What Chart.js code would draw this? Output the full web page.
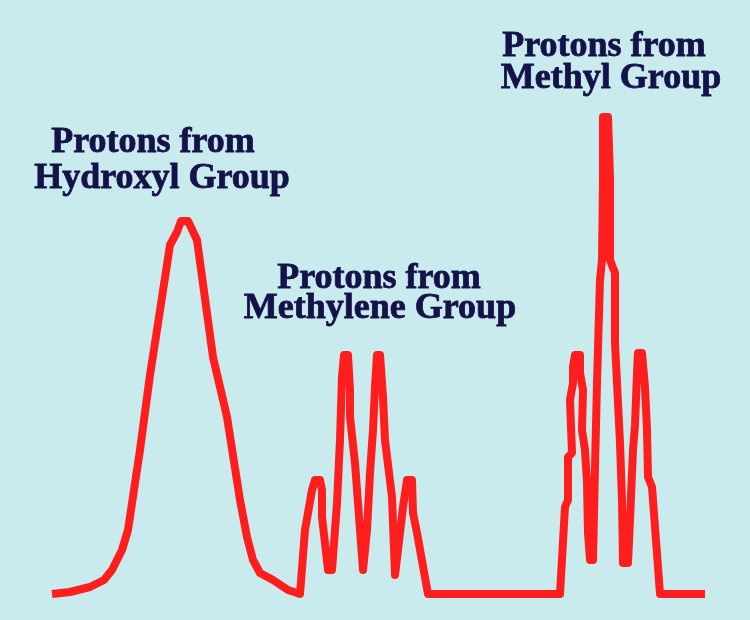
<!DOCTYPE html>
<html>
<head>
<meta charset="utf-8">
<title>NMR spectrum of ethanol</title>
<script src="https://cdn.jsdelivr.net/npm/chart.js@4.4.1/dist/chart.umd.min.js"></script>
<style>
  html, body { margin: 0; padding: 0; background: #c9ebee; }
  #wrap { width: 750px; height: 620px; position: relative; }
</style>
</head>
<body>
<div id="wrap"><canvas id="spectrum"></canvas></div>
<script>
// posição horizontal (unidades da figura) e intensidade do sinal
const shifts = [52, 70, 90, 104, 112, 122, 128, 140, 150, 157, 170, 177, 181, 188, 197, 213, 227, 240, 247, 253, 260, 273, 288, 300,
  305, 312, 315, 320, 322, 322, 328, 332, 337, 340, 342, 344, 348, 350, 350, 355, 363, 367, 370, 373, 375, 377, 380, 383, 385, 392,
  395, 398, 403, 407, 412, 413, 417, 428, 560,
  565, 568, 568, 572, 570, 573, 573, 575, 580, 580, 583, 582, 585, 587, 588, 590, 593, 595, 597, 600, 602, 603, 603, 608, 610, 610,
  615, 615, 620, 622, 623, 628, 630, 633, 635, 637, 638, 642, 645, 647, 648, 652, 660, 705];
const intensities = [0, 2, 7, 14, 24, 44, 64, 144, 219, 264, 349, 362, 373, 373, 354, 237, 177, 94, 57, 34, 21, 14, 4, 0,
  64, 104, 114, 114, 104, 77, 24, 24, 91, 154, 217, 239, 239, 204, 177, 131, 24, 64, 121, 164, 207, 239, 239, 197, 154, 97,
  19, 44, 87, 114, 114, 81, 61, 0, 0,
  87, 94, 137, 141, 194, 211, 227, 239, 239, 221, 204, 164, 144, 111, 61, 34, 34, 127, 211, 314, 334, 414, 477, 477, 417, 334,
  321, 251, 151, 94, 31, 31, 74, 144, 169, 221, 241, 241, 207, 164, 117, 107, 0, 0];

// rótulos dos grupos
const groupLabels = [
  ['Protons from', 'Hydroxyl Group'],
  ['Protons from', 'Methylene Group'],
  ['Protons from', 'Methyl Group']
];
// onde cada linha do rótulo fica (centro x, linha de base y), em unidades dos eixos
const labelAnchors = [
  [[153, 442], [162, 406]],
  [[379, 306], [380, 276]],
  [[604, 538], [611, 506]]
];

const points = shifts.map((x, i) => ({ x, y: intensities[i] }));

const background = {
  id: 'background',
  beforeDraw(chart) {
    const ctx = chart.ctx;
    ctx.save();
    ctx.fillStyle = '#c9ebee';
    ctx.fillRect(0, 0, chart.width, chart.height);
    ctx.restore();
  }
};

const groupText = {
  id: 'groupText',
  afterDatasetsDraw(chart) {
    const { ctx, scales } = chart;
    ctx.save();
    ctx.font = 'bold 36px "Liberation Serif", "Times New Roman", serif';
    ctx.fillStyle = '#15124a';
    ctx.strokeStyle = '#15124a';
    ctx.lineWidth = 0.8;
    ctx.textAlign = 'center';
    ctx.textBaseline = 'alphabetic';
    groupLabels.forEach((lines, g) => {
      lines.forEach((txt, l) => {
        const [ax, ay] = labelAnchors[g][l];
        const px = scales.x.getPixelForValue(ax);
        const py = scales.y.getPixelForValue(ay);
        ctx.fillText(txt, px, py);
        ctx.strokeText(txt, px, py);
      });
    });
    ctx.restore();
  }
};

new Chart(document.getElementById('spectrum'), {
  type: 'line',
  data: {
    datasets: [{
      data: points,
      borderColor: '#ff1e1e',
      borderWidth: 8,
      borderJoinStyle: 'round',
      borderCapStyle: 'butt',
      pointRadius: 0,
      tension: 0,
      fill: false
    }]
  },
  options: {
    responsive: true,
    maintainAspectRatio: false,
    animation: false,
    layout: { padding: 0 },
    plugins: { legend: { display: false }, tooltip: { enabled: false } },
    scales: {
      x: { type: 'linear', min: 0, max: 750, display: false },
      y: { type: 'linear', min: -26, max: 594, display: false }
    }
  },
  plugins: [background, groupText]
});
</script>
</body>
</html>
